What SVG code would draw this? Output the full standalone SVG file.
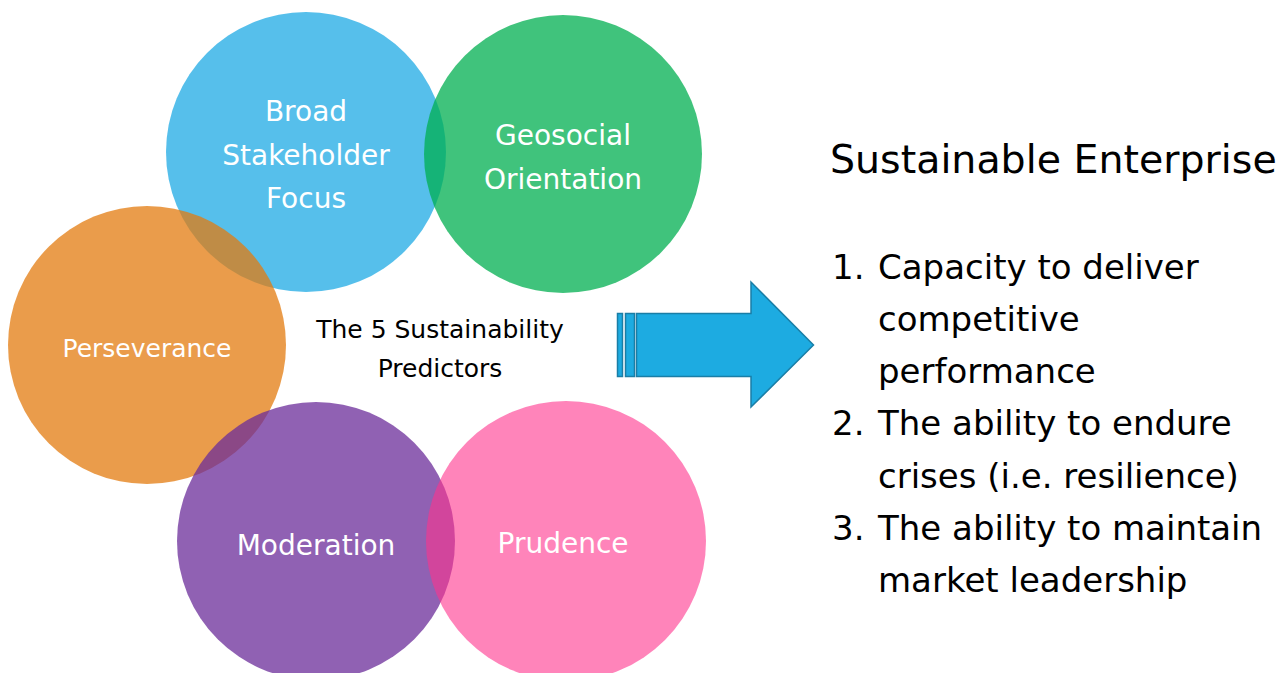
<svg xmlns="http://www.w3.org/2000/svg" width="1284" height="673" viewBox="0 0 1284 673">
<style>
  .c { opacity: 0.75; }
  .lbl { font-family: "DejaVu Sans", "Liberation Sans", sans-serif; fill: #ffffff; text-anchor: middle; font-size: 28px; }
  .txt { font-family: "DejaVu Sans", "Liberation Sans", sans-serif; fill: #000000; }
  .li { font-size: 34px; }
</style>
<rect width="1284" height="673" fill="#ffffff"/>
<g id="broad">
  <circle class="c" cx="306" cy="152" r="140" fill="#1DA9E4"/>
  <text class="lbl" x="306" y="121">Broad</text>
  <text class="lbl" x="306" y="165">Stakeholder</text>
  <text class="lbl" x="306" y="208">Focus</text>
</g>
<g id="geosocial">
  <circle class="c" cx="563" cy="154" r="139" fill="#00AF50"/>
  <text class="lbl" x="563" y="145">Geosocial</text>
  <text class="lbl" x="563" y="189">Orientation</text>
</g>
<g id="perseverance">
  <circle class="c" cx="147" cy="345" r="139" fill="#E37B0F"/>
  <text class="lbl" x="147" y="357" style="font-size:25px">Perseverance</text>
</g>
<g id="moderation">
  <circle class="c" cx="316" cy="541" r="139" fill="#6B2C99"/>
  <text class="lbl" x="316" y="555">Moderation</text>
</g>
<g id="prudence">
  <circle cx="566" cy="541" r="140" fill="#FF328C" opacity="0.6"/>
  <text class="lbl" x="563" y="553">Prudence</text>
</g>
<g id="center-label">
  <text class="txt" x="440" y="338" text-anchor="middle" font-size="25">The 5 Sustainability</text>
  <text class="txt" x="440" y="377" text-anchor="middle" font-size="25">Predictors</text>
</g>
<g id="connectors">
  <g fill="#1DABE1" stroke="#1A7EA6" stroke-width="1.5">
    <rect x="617.5" y="313.5" width="5" height="63"/>
    <rect x="625.5" y="313.5" width="9" height="63"/>
    <path d="M636.5,313.5 H751 V282 L813.5,345 L751,407 V376.5 H636.5 Z"/>
  </g>
</g>
<g id="sustainable-enterprise">
  <text class="txt" x="830" y="173" font-size="39.5">Sustainable Enterprise</text>
  <g class="txt li">
    <text x="832" y="279">1.</text>
    <text x="878" y="279">Capacity to deliver</text>
    <text x="878" y="331">competitive</text>
    <text x="878" y="383">performance</text>
    <text x="832" y="435">2.</text>
    <text x="878" y="435">The ability to endure</text>
    <text x="878" y="488">crises (i.e. resilience)</text>
    <text x="832" y="540">3.</text>
    <text x="878" y="540">The ability to maintain</text>
    <text x="878" y="592">market leadership</text>
  </g>
</g>
</svg>
